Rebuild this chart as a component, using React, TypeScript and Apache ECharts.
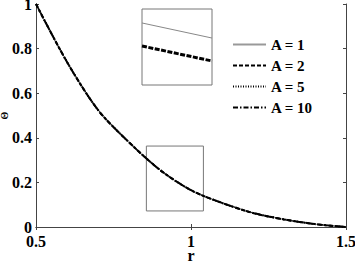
import React, { useEffect, useRef } from "react";
import * as echarts from "echarts";

const rValues = [0.5, 0.6, 0.7, 0.8, 0.9, 1.0, 1.1, 1.2, 1.3, 1.4, 1.5];
const thetaA1 = [1, 0.74, 0.525, 0.38, 0.256, 0.165, 0.108, 0.063, 0.034, 0.013, 0];
const thetaA2 = [1, 0.74, 0.525, 0.38, 0.256, 0.165, 0.108, 0.063, 0.034, 0.013, 0];
const thetaA5 = [1, 0.74, 0.525, 0.38, 0.256, 0.165, 0.108, 0.063, 0.034, 0.013, 0];
const thetaA10 = [1, 0.74, 0.525, 0.38, 0.256, 0.165, 0.108, 0.063, 0.034, 0.013, 0];
const seriesNames = ["A = 1", "A = 2", "A = 5", "A = 10"];
const xTicks = [0.5, 1, 1.5];
const yTicks = [0, 0.2, 0.4, 0.6, 0.8, 1];
// zoom window in data coordinates
const zoomBoxX = [0.856, 1.04];
const zoomBoxY = [0.072, 0.363];
// inset (magnified) lines: left and right end values on a 0..1 inset scale
const insetX = [0, 1];
const insetA1 = [0.816, 0.618];
const insetOthers = [0.513, 0.316];

const FONT = "'Liberation Serif', 'Times New Roman', serif";

export default function App() {
  const ref = useRef<HTMLDivElement>(null);
  useEffect(() => {
    if (!ref.current) return;
    const chart = echarts.init(ref.current, null, { renderer: "svg" });
    const pairs = (ys: number[]) => rValues.map((r, i) => [r, ys[i]]);
    const fmt = (v: number) => String(Math.round(v * 10) / 10);
    chart.setOption({
      animation: false,
      textStyle: { fontFamily: FONT },
      grid: [
        { left: 36, right: 9, top: 4, bottom: 39, show: false, containLabel: false, outerBoundsMode: "none" },
        {
          left: 142,
          top: 9,
          width: 70,
          height: 76,
          show: true,
          borderColor: "#777",
          borderWidth: 1,
          backgroundColor: "#fff",
          z: 10,
          containLabel: false,
          outerBoundsMode: "none",
        },
      ],
      xAxis: [
        {
          gridIndex: 0,
          type: "value",
          min: 0.5,
          max: 1.5,
          interval: 0.5,
          name: "r",
          nameLocation: "middle",
          nameGap: 20,
          nameMoveOverlap: false,
          nameTextStyle: { fontFamily: FONT, fontWeight: "bold", fontSize: 16, color: "#000" },
          axisLine: { show: true, lineStyle: { color: "#444", width: 1 } },
          axisTick: { show: true, inside: true, length: 3, lineStyle: { color: "#444" } },
          axisLabel: {
            fontFamily: FONT,
            fontWeight: "bold",
            fontSize: 16,
            color: "#000",
            margin: 6,
            formatter: (v: number) => (xTicks.includes(v) ? fmt(v) : ""),
          },
          splitLine: { show: false },
        },
        {
          gridIndex: 0,
          type: "value",
          position: "top",
          min: 0.5,
          max: 1.5,
          interval: 0.5,
          axisLine: { show: true, lineStyle: { color: "#444", width: 1 } },
          axisTick: { show: true, inside: true, length: 3, lineStyle: { color: "#444" } },
          axisLabel: { show: false },
          splitLine: { show: false },
        },
        { gridIndex: 1, type: "value", min: 0, max: 1, show: false },
      ],
      yAxis: [
        {
          gridIndex: 0,
          type: "value",
          min: 0,
          max: 1,
          interval: 0.2,
          name: "Θ",
          nameLocation: "middle",
          nameGap: 27,
          nameMoveOverlap: false,
          nameRotate: 90,
          nameTextStyle: { fontFamily: FONT, fontWeight: "bold", fontSize: 10, color: "#000" },
          axisLine: { show: true, lineStyle: { color: "#444", width: 1 } },
          axisTick: { show: true, inside: true, length: 3, lineStyle: { color: "#444" } },
          axisLabel: {
            fontFamily: FONT,
            fontWeight: "bold",
            fontSize: 16,
            color: "#000",
            margin: 4,
            formatter: (v: number) => {
              const t = yTicks.find((y) => Math.abs(y - v) < 1e-9);
              return t === undefined ? "" : fmt(t);
            },
          },
          splitLine: { show: false },
        },
        {
          gridIndex: 0,
          type: "value",
          position: "right",
          min: 0,
          max: 1,
          interval: 0.2,
          axisLine: { show: true, lineStyle: { color: "#444", width: 1 } },
          axisTick: { show: true, inside: true, length: 3, lineStyle: { color: "#444" } },
          axisLabel: { show: false },
          splitLine: { show: false },
        },
        { gridIndex: 1, type: "value", min: 0, max: 1, show: false },
      ],
      legend: {
        data: seriesNames,
        orient: "vertical",
        left: 227,
        top: 32,
        itemWidth: 33,
        itemHeight: 14,
        itemGap: 6,
        itemStyle: { opacity: 0 },
        textStyle: { fontFamily: FONT, fontWeight: "bold", fontSize: 15, color: "#000" },
      },
      series: [
        {
          name: seriesNames[0],
          type: "line",
          xAxisIndex: 0,
          yAxisIndex: 0,
          data: pairs(thetaA1),
          symbol: "none",
          smooth: 0.3,
          lineStyle: { color: "#999", width: 1, type: "solid" },
          itemStyle: { color: "#999" },
          markArea: {
            silent: true,
            itemStyle: { color: "rgba(0,0,0,0)", borderColor: "#777", borderWidth: 1 },
            data: [[{ xAxis: zoomBoxX[0], yAxis: zoomBoxY[0] }, { xAxis: zoomBoxX[1], yAxis: zoomBoxY[1] }]],
          },
        },
        {
          name: seriesNames[1],
          type: "line",
          xAxisIndex: 0,
          yAxisIndex: 0,
          data: pairs(thetaA2),
          symbol: "none",
          smooth: 0.3,
          lineStyle: { color: "#000", width: 2, type: [4, 2] },
          itemStyle: { color: "#000" },
        },
        {
          name: seriesNames[2],
          type: "line",
          xAxisIndex: 0,
          yAxisIndex: 0,
          data: pairs(thetaA5),
          symbol: "none",
          smooth: 0.3,
          lineStyle: { color: "#000", width: 1.5, type: [1, 1.5] },
          itemStyle: { color: "#000" },
        },
        {
          name: seriesNames[3],
          type: "line",
          xAxisIndex: 0,
          yAxisIndex: 0,
          data: pairs(thetaA10),
          symbol: "none",
          smooth: 0.3,
          lineStyle: { color: "#000", width: 2, type: [5, 2, 1.5, 2] },
          itemStyle: { color: "#000" },
        },
        {
          name: "inset A1",
          type: "line",
          xAxisIndex: 2,
          yAxisIndex: 2,
          data: insetX.map((x, i) => [x, insetA1[i]]),
          symbol: "none",
          z: 11,
          lineStyle: { color: "#888", width: 1 },
        },
        {
          name: "inset others",
          type: "line",
          xAxisIndex: 2,
          yAxisIndex: 2,
          data: insetX.map((x, i) => [x, insetOthers[i]]),
          symbol: "none",
          z: 11,
          lineStyle: { color: "#000", width: 3, type: [5, 1.5] },
        },
      ],
    });
    return () => chart.dispose();
  }, []);
  return (
    <div
      ref={ref}
      style={{ position: "fixed", left: 0, top: 0, width: 355, height: 266, background: "#fff" }}
    />
  );
}
